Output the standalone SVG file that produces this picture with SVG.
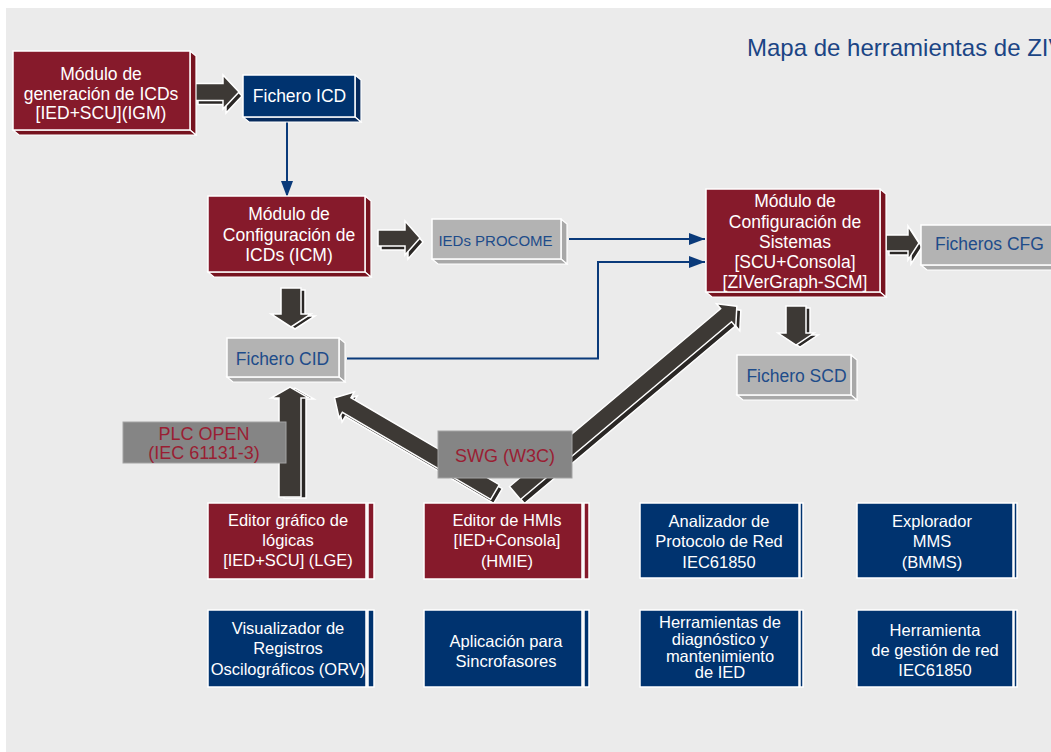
<svg xmlns="http://www.w3.org/2000/svg" width="1051" height="752" viewBox="0 0 1051 752">
<style>
.bg{fill:#EBEBEB}
.red{fill:#861A2B;stroke:#fff;stroke-width:1.5}
.redS{fill:#76131F;stroke:#fff;stroke-width:1.2}
.blue{fill:#00336F;stroke:#fff;stroke-width:1.5}
.blueS{fill:#062A5C;stroke:#fff;stroke-width:1.2}
.gray{fill:#B3B3B3;stroke:#fff;stroke-width:1.5}
.grayS{fill:#A8A8A8;stroke:#fff;stroke-width:1.2}
.lbl{fill:#858585;stroke:#A3A3A3;stroke-width:1}
text{font-family:"Liberation Sans",Arial,sans-serif;font-size:17.5px;text-anchor:middle}
.tw{fill:#fff}
.ts{font-size:16.5px}
.tb{fill:#1E4C8A}
.tr{fill:#9A1E33;font-size:18px}
.title{fill:#1B4585;font-size:24px;text-anchor:start}
.arr{fill:#3D3935;stroke:#fff;stroke-width:1.5;stroke-linejoin:miter}
.arrb{fill:#2A2725;stroke:#fff;stroke-width:1.5}
.conn{stroke:#0A3A7A;stroke-width:2;fill:none}
</style>
<defs>
<marker id="ah" markerUnits="userSpaceOnUse" markerWidth="16" markerHeight="12" refX="16" refY="6" orient="auto">
<path d="M0,0 L16,6 L0,12 z" fill="#0A3A7A"/>
</marker>
</defs>
<rect x="0" y="0" width="1051" height="752" fill="#fff"/>
<rect class="bg" x="6" y="8" width="1045" height="744"/>
<text class="title" x="747" y="56">Mapa de herramientas de ZIV</text>

<g id="connectors">
<line class="conn" x1="287" y1="122" x2="287" y2="197" marker-end="url(#ah)"/>
<line class="conn" x1="569" y1="239" x2="705" y2="239" marker-end="url(#ah)"/>
<polyline class="conn" points="347,358.5 598,358.5 598,262 705,262" marker-end="url(#ah)"/>
<!-- block arrows -->
<g id="a1">
<polygon class="arrb" transform="translate(198,96)" points="0,-8.5 28,-8.5 28,-17 44,0 28,17 28,8.5 0,8.5"/>
<polygon class="arr" transform="translate(195,92)" points="0,-8.5 28,-8.5 28,-17 44,0 28,17 28,8.5 0,8.5"/>
</g>
<g id="a2">
<polygon class="arrb" transform="translate(381,242)" points="0,-8 27,-8 27,-17 42,0 27,17 27,8 0,8"/>
<polygon class="arr" transform="translate(378,238)" points="0,-8 27,-8 27,-17 42,0 27,17 27,8 0,8"/>
</g>
<g id="a3">
<polygon class="arrb" transform="translate(889,247)" points="0,-8 22,-8 22,-17 33,0 22,17 22,8 0,8"/>
<polygon class="arr" transform="translate(886,243)" points="0,-8 22,-8 22,-17 33,0 22,17 22,8 0,8"/>
</g>
<g id="a4">
<polygon class="arrb" transform="translate(295,290) rotate(90)" points="0,-10 26,-10 26,-20 39,0 26,20 26,10 0,10"/>
<polygon class="arr" transform="translate(291,288) rotate(90)" points="0,-10 26,-10 26,-20 39,0 26,20 26,10 0,10"/>
</g>
<g id="a5">
<polygon class="arrb" transform="translate(800,308) rotate(90)" points="0,-10 27,-10 27,-18 39,0 27,18 27,10 0,10"/>
<polygon class="arr" transform="translate(796,306) rotate(90)" points="0,-10 27,-10 27,-18 39,0 27,18 27,10 0,10"/>
</g>
<g id="a6">
<polygon class="arrb" transform="translate(295,498) rotate(-90)" points="0,-11 99,-11 99,-19 110,0 99,19 99,11 0,11"/>
<polygon class="arr" transform="translate(290,497) rotate(-90)" points="0,-11 99,-11 99,-19 110,0 99,19 99,11 0,11"/>
</g>
<g id="a7">
<polygon class="arrb" transform="translate(498,496) rotate(210.4)" points="0,-8.5 172,-8.5 172,-15 186,0 172,15 172,8.5 0,8.5"/>
<polygon class="arr" transform="translate(495,492) rotate(210.4)" points="0,-8.5 172,-8.5 172,-15 186,0 172,15 172,8.5 0,8.5"/>
</g>
<g id="a8">
<polygon class="arrb" transform="translate(519,497) rotate(-40.1)" points="0,-8.5 276,-8.5 276,-15 290,0 276,15 276,8.5 0,8.5"/>
<polygon class="arr" transform="translate(515,493) rotate(-40.1)" points="0,-8.5 276,-8.5 276,-15 290,0 276,15 276,8.5 0,8.5"/>
</g>
</g>

<g id="lbl-plc">
<rect class="lbl" x="123" y="422" width="163" height="41"/>
<text class="tr" x="204" y="440">PLC OPEN</text>
<text class="tr" x="204" y="459">(IEC 61131-3)</text>
</g>
<g id="lbl-swg">
<rect class="lbl" x="438" y="431" width="134" height="47"/>
<text class="tr" x="505" y="462">SWG (W3C)</text>
</g>

<g id="n-igm">
<polygon class="redS" points="190,51 196,56 196,135 190,130"/>
<polygon class="redS" points="13,130 190,130 196,135 19,135"/>
<rect class="red" x="13" y="51" width="177" height="79"/>
<text class="tw" x="101" y="80">Módulo de</text>
<text class="tw" x="101" y="99.5">generación de ICDs</text>
<text class="tw" x="101" y="119">[IED+SCU](IGM)</text>
</g>
<g id="n-icd">
<polygon class="blueS" points="355,75 361,80 361,122 355,117"/>
<polygon class="blueS" points="243,117 355,117 361,122 249,122"/>
<rect class="blue" x="243" y="75" width="112" height="42"/>
<text class="tw" x="299.5" y="101.5">Fichero ICD</text>
</g>
<g id="n-icm">
<polygon class="redS" points="365,196 371,201 371,277 365,272"/>
<polygon class="redS" points="208,272 365,272 371,277 214,277"/>
<rect class="red" x="208" y="196" width="157" height="76"/>
<text class="tw" x="289" y="220">Módulo de</text>
<text class="tw" x="289" y="241">Configuración de</text>
<text class="tw" x="289" y="261">ICDs (ICM)</text>
</g>
<g id="n-procome">
<polygon class="grayS" points="561,219 567,224 567,264 561,259"/>
<polygon class="grayS" points="432,259 561,259 567,264 438,264"/>
<rect class="gray" x="432" y="219" width="129" height="40"/>
<text class="tb" x="495.5" y="246" style="font-size:15px">IEDs PROCOME</text>
</g>
<g id="n-cid">
<polygon class="grayS" points="339,338 345,343 345,382 339,377"/>
<polygon class="grayS" points="227,377 339,377 345,382 233,382"/>
<rect class="gray" x="227" y="338" width="112" height="39"/>
<text class="tb" x="282.5" y="365">Fichero CID</text>
</g>
<g id="n-scm">
<polygon class="redS" points="880,189 886,194 886,297 880,292"/>
<polygon class="redS" points="706,292 880,292 886,297 712,297"/>
<rect class="red" x="706" y="189" width="174" height="103"/>
<text class="tw" x="795" y="207">Módulo de</text>
<text class="tw" x="795" y="227.5">Configuración de</text>
<text class="tw" x="795" y="247.5">Sistemas</text>
<text class="tw" x="795" y="268">[SCU+Consola]</text>
<text class="tw" x="795" y="288">[ZIVerGraph-SCM]</text>
</g>
<g id="n-cfg">
<polygon class="grayS" points="921,265 1061,265 1067,270 927,270"/>
<rect class="gray" x="921" y="225" width="140" height="40"/>
<text class="tb" x="935" y="250" style="text-anchor:start">Ficheros CFG</text>
</g>
<g id="n-scd">
<polygon class="grayS" points="851,355 857,360 857,400 851,395"/>
<polygon class="grayS" points="737,395 851,395 857,400 743,400"/>
<rect class="gray" x="737" y="355" width="114" height="40"/>
<text class="tb" x="796.5" y="382">Fichero SCD</text>
</g>

<g id="n-lge">
<rect class="red" x="368" y="503" width="6" height="76"/>
<rect class="red" x="208" y="503" width="158" height="76"/>
<text class="tw ts" x="288" y="525.5">Editor gráfico de</text>
<text class="tw ts" x="288" y="545.5">lógicas</text>
<text class="tw ts" x="288" y="566">[IED+SCU] (LGE)</text>
</g>
<g id="n-hmie">
<rect class="red" x="584" y="503" width="5" height="76"/>
<rect class="red" x="424" y="503" width="158" height="76"/>
<text class="tw ts" x="507" y="526">Editor de HMIs</text>
<text class="tw ts" x="507" y="546">[IED+Consola]</text>
<text class="tw ts" x="507" y="566.5">(HMIE)</text>
</g>
<g id="n-analizador">
<rect class="blue" x="800" y="503" width="3" height="75"/>
<rect class="blue" x="640" y="503" width="159" height="75"/>
<text class="tw ts" x="719" y="527">Analizador de</text>
<text class="tw ts" x="719" y="547">Protocolo de Red</text>
<text class="tw ts" x="719" y="568">IEC61850</text>
</g>
<g id="n-mms">
<rect class="blue" x="1014" y="503" width="3" height="75"/>
<rect class="blue" x="857" y="503" width="156" height="75"/>
<text class="tw ts" x="932" y="527">Explorador</text>
<text class="tw ts" x="932" y="547">MMS</text>
<text class="tw ts" x="932" y="568">(BMMS)</text>
</g>
<g id="n-orv">
<rect class="blue" x="368" y="610" width="6" height="77"/>
<rect class="blue" x="208" y="610" width="158" height="77"/>
<text class="tw ts" x="288" y="633.5">Visualizador de</text>
<text class="tw ts" x="288" y="654">Registros</text>
<text class="tw ts" x="288" y="675">Oscilográficos (ORV)</text>
</g>
<g id="n-sincro">
<rect class="blue" x="584" y="610" width="5" height="77"/>
<rect class="blue" x="424" y="610" width="158" height="77"/>
<text class="tw ts" x="506" y="646.5">Aplicación para</text>
<text class="tw ts" x="506" y="667">Sincrofasores</text>
</g>
<g id="n-diag">
<rect class="blue" x="800" y="610" width="3" height="77"/>
<rect class="blue" x="640" y="610" width="159" height="77"/>
<text class="tw ts" x="720" y="627.5">Herramientas de</text>
<text class="tw ts" x="720" y="644.5">diagnóstico y</text>
<text class="tw ts" x="720" y="661.5">mantenimiento</text>
<text class="tw ts" x="720" y="678">de IED</text>
</g>
<g id="n-gestion">
<rect class="blue" x="1014" y="610" width="3" height="77"/>
<rect class="blue" x="857" y="610" width="156" height="77"/>
<text class="tw ts" x="935" y="636">Herramienta</text>
<text class="tw ts" x="935" y="656">de gestión de red</text>
<text class="tw ts" x="935" y="676">IEC61850</text>
</g>
</svg>
